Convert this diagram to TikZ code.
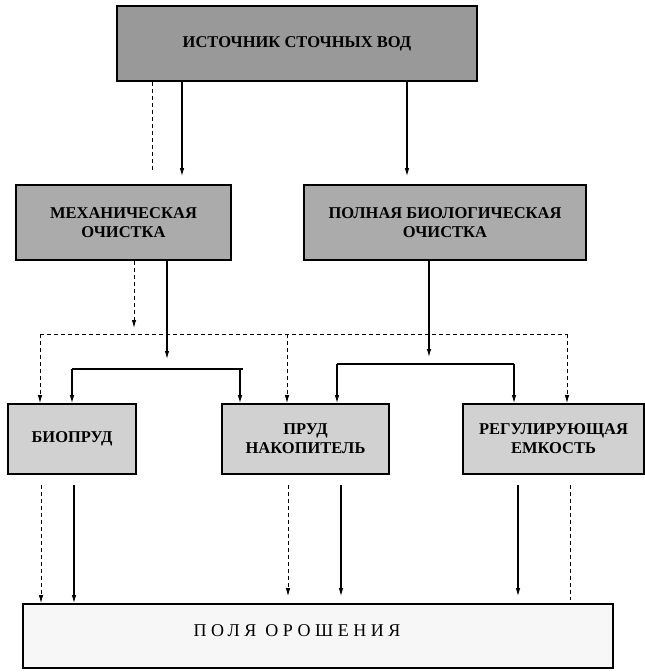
\documentclass[tikz,border=0pt]{standalone}
\usepackage{fontspec}
\setmainfont{Liberation Serif}
\usetikzlibrary{arrows.meta}
\begin{document}
\begin{tikzpicture}[x=1pt,y=-1pt,
 box/.style={draw=black, line width=1.6pt, rectangle, align=center,
   font=\bfseries\fontsize{16.5}{19}\selectfont, inner sep=0pt},
 flow/.style={line width=1.1pt, -{Latex[length=8pt,width=4.5pt]}},
 dflow/.style={line width=1pt, dash pattern=on 4pt off 3pt, -{Latex[length=8pt,width=4.5pt]}},
 dline/.style={line width=1pt, dash pattern=on 4pt off 3pt},
 sline/.style={line width=1.1pt}]
\useasboundingbox (0,0) rectangle (645,672);

% boxes
\node[box, fill=black!40, minimum width=360pt, minimum height=75pt] (src) at (297,43.5) {ИСТОЧНИК СТОЧНЫХ ВОД};
\node[box, fill=black!33, minimum width=215pt, minimum height=75pt] (mech) at (123.5,222.5) {МЕХАНИЧЕСКАЯ\\ОЧИСТКА};
\node[box, fill=black!33, minimum width=282pt, minimum height=75pt] (bio) at (445,222.5) {ПОЛНАЯ БИОЛОГИЧЕСКАЯ\\ОЧИСТКА};
\node[box, fill=black!18, minimum width=128pt, minimum height=70pt] (biop) at (72,439) {БИОПРУД};
\node[box, fill=black!18, minimum width=167pt, minimum height=70pt] (pond) at (305.5,439) {ПРУД\\НАКОПИТЕЛЬ};
\node[box, fill=black!18, minimum width=181pt, minimum height=70pt] (reg) at (553.5,439) {РЕГУЛИРУЮЩАЯ\\ЕМКОСТЬ};
\node[box, fill=black!3, minimum width=590pt, minimum height=64pt] (field) at (318,636) {};
\node[font=\fontsize{18}{20}\selectfont\addfontfeatures{LetterSpace=25}, inner sep=0pt] (fieldtxt) at (297,631) {ПОЛЯ\hspace{9pt}ОРОШЕНИЯ};

% helper coordinates
\coordinate (xa) at (182,0);
\coordinate (xb) at (407,0);
\coordinate (ds) at (152,170);
\coordinate (md) at (134,328);
\coordinate (ms) at (167,359);
\coordinate (bs) at (429,357);
\coordinate (dl) at (40,334);
\coordinate (dm) at (287,334);
\coordinate (dr) at (567,334);
\coordinate (sl1) at (72,369);
\coordinate (sr1a) at (240,369);
\coordinate (sr1) at (243,369);
\coordinate (sl2) at (337,364);
\coordinate (sr2) at (514,364);
\coordinate (x1) at (41,0);
\coordinate (x2) at (74,0);
\coordinate (x3) at (288,0);
\coordinate (x4) at (341,0);
\coordinate (x5) at (518,0);
\coordinate (x6) at (570,0);
\coordinate (e6) at (570,600);

% source outputs
\draw[dline] (src.south -| ds) -- (ds);
\draw[flow, shorten >=8pt] (src.south -| xa) -- (mech.north -| xa);
\draw[flow, shorten >=8pt] (src.south -| xb) -- (bio.north -| xb);

% treatment outputs
\draw[dflow] (mech.south -| md) -- (md);
\draw[flow] (mech.south -| ms) -- (ms);
\draw[flow] (bio.south -| bs) -- (bs);

% dashed distribution
\draw[dline] (dl) -- (dr);
\draw[dflow] (dl) -- (biop.north -| dl);
\draw[dflow] (dm) -- (pond.north -| dm);
\draw[dflow] (dr) -- (reg.north -| dr);

% solid distribution
\draw[sline] (sl1) -- (sr1);
\draw[flow] (sl1) -- (biop.north -| sl1);
\draw[flow] (sr1a) -- (pond.north -| sr1a);
\draw[sline] (sl2) -- (sr2);
\draw[flow] (sl2) -- (pond.north -| sl2);
\draw[flow] (sr2) -- (reg.north -| sr2);

% to the fields
\draw[dflow, shorten <=10pt] (biop.south -| x1) -- (field.north -| x1);
\draw[flow, shorten <=10pt] (biop.south -| x2) -- (field.north -| x2);
\draw[dflow, shorten <=10pt, shorten >=7pt] (pond.south -| x3) -- (field.north -| x3);
\draw[flow, shorten <=10pt, shorten >=7pt] (pond.south -| x4) -- (field.north -| x4);
\draw[flow, shorten <=10pt, shorten >=7pt] (reg.south -| x5) -- (field.north -| x5);
\draw[dline, shorten <=10pt] (reg.south -| x6) -- (e6);
\end{tikzpicture}
\end{document}
